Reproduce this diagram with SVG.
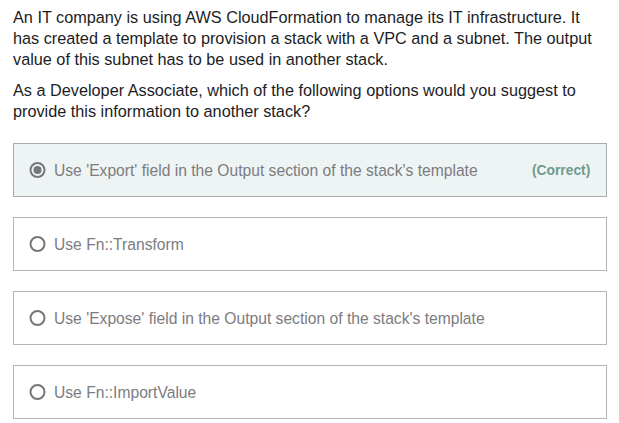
<svg xmlns="http://www.w3.org/2000/svg" width="619" height="423" viewBox="0 0 619 423">
<style>
.q{font-family:"Liberation Sans",Arial,sans-serif;font-size:16.25px;fill:#1c1d1f}
.opt{font-family:"Liberation Sans",Arial,sans-serif;font-size:15.65px;fill:#7c7c81}
.box{fill:#ffffff;stroke:#b4b4b4;stroke-width:1}
.sel{fill:#eef4f4;stroke:#a6acac}
.radio{fill:none;stroke:#77777b;stroke-width:2}
.ok{font-family:"Liberation Sans",Arial,sans-serif;font-size:13.8px;font-weight:bold;fill:#6f9a8c}
</style>
<rect width="619" height="423" fill="#ffffff"/>
<g id="question">
<text class="q" x="13" y="23">An IT company is using AWS CloudFormation to manage its IT infrastructure. It</text>
<text class="q" x="13" y="44">has created a template to provision a stack with a VPC and a subnet. The output</text>
<text class="q" x="13" y="65">value of this subnet has to be used in another stack.</text>
<text class="q" x="13" y="96">As a Developer Associate, which of the following options would you suggest to</text>
<text class="q" x="13" y="117">provide this information to another stack?</text>
</g>
<g id="option1">
<rect class="box sel" x="13.5" y="143.5" width="593" height="53"/>
<circle class="radio" cx="37.5" cy="170" r="7"/>
<circle cx="37.5" cy="170" r="4" fill="#77777b"/>
<text class="opt" x="54" y="175.5">Use 'Export' field in the Output section of the stack's template</text>
<text class="ok" x="532" y="175">(Correct)</text>
</g>
<g id="option2">
<rect class="box" x="13.5" y="217.5" width="593" height="53"/>
<circle class="radio" cx="37.5" cy="244" r="7"/>
<text class="opt" x="54" y="249.5">Use Fn::Transform</text>
</g>
<g id="option3">
<rect class="box" x="13.5" y="291.5" width="593" height="53"/>
<circle class="radio" cx="37.5" cy="318" r="7"/>
<text class="opt" x="54" y="323.5">Use 'Expose' field in the Output section of the stack's template</text>
</g>
<g id="option4">
<rect class="box" x="13.5" y="365.5" width="593" height="53"/>
<circle class="radio" cx="37.5" cy="392" r="7"/>
<text class="opt" x="54" y="397.5">Use Fn::ImportValue</text>
</g>
<g id="connectors"/>
</svg>
